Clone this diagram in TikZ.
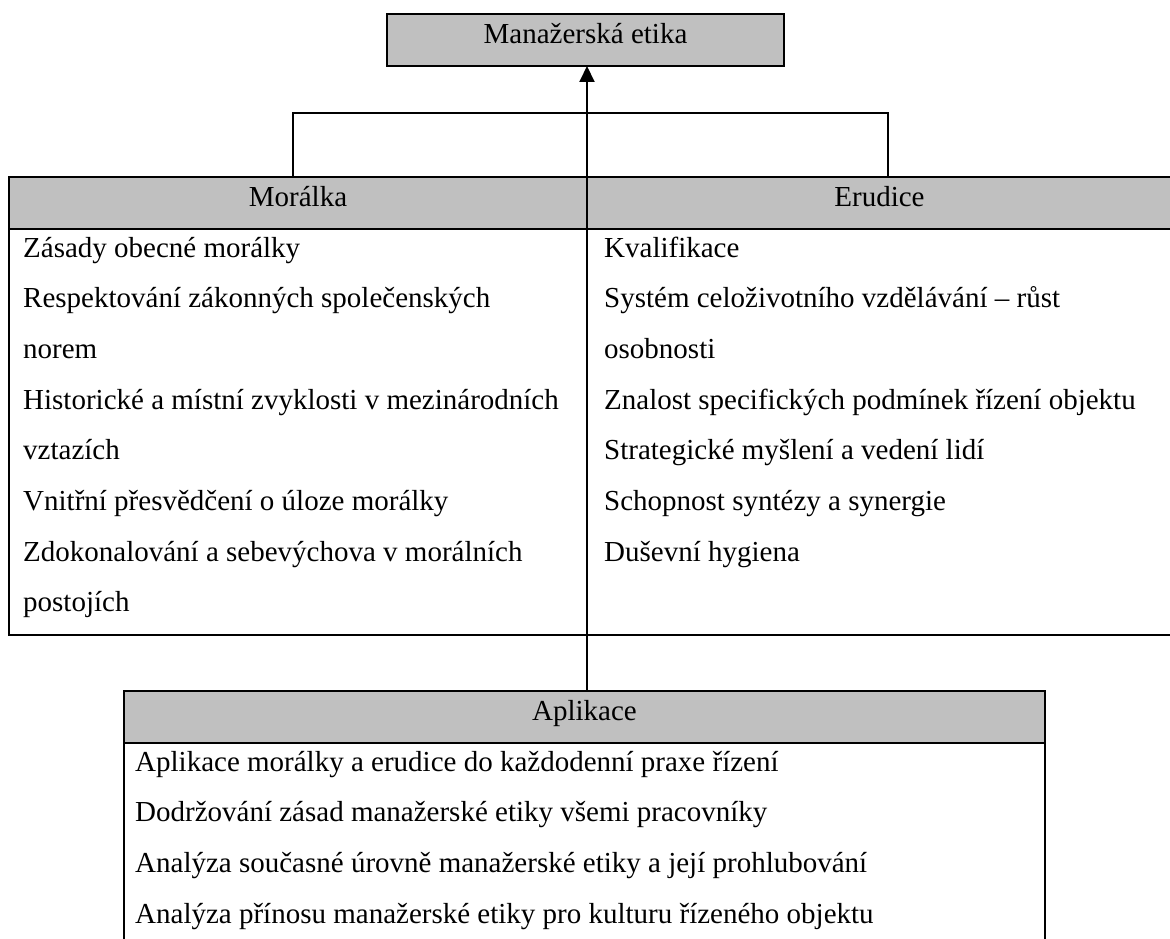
\documentclass[tikz,border=0pt]{standalone}
\usepackage{fontspec}
\setmainfont{Liberation Serif}
\usetikzlibrary{arrows.meta}
\definecolor{headgray}{HTML}{C0C0C0}
\begin{document}
\begin{tikzpicture}[x=1pt,y=-1pt,
  box/.style={draw=black, line width=2pt, inner sep=0pt, outer sep=0pt},
  hdrbox/.style={box, fill=headgray},
  txt/.style={anchor=base west, inner sep=0pt, font=\fontsize{29}{35}\selectfont},
  ctxt/.style={anchor=base, inner sep=0pt, font=\fontsize{29}{35}\selectfont},
  conn/.style={draw=black, line width=1.5pt},
  arr/.style={draw=black, line width=2pt, -{Triangle[length=16pt,width=15pt]}}
]
\useasboundingbox (0,0) rectangle (1170,939);
% top box
\node[hdrbox, minimum width=397pt, minimum height=52pt] (topbox) at (585.5,40) {};
\node[ctxt] (toptext) at (585.5,44) {Manažerská etika};
% table Moralka / Erudice
\node[box, minimum width=578pt, minimum height=406pt] (moralB) at (298,432) {};
\node[box, minimum width=585pt, minimum height=406pt] (eruB) at (879.5,432) {};
\node[hdrbox, minimum width=578pt, minimum height=52pt] (moralH) at (298,203) {};
\node[hdrbox, minimum width=585pt, minimum height=52pt] (eruH) at (879.5,203) {};
\node[ctxt] (moralT) at (298,206) {Morálka};
\node[ctxt] (eruT) at (879.5,206) {Erudice};
\foreach \t [count=\i] in {Zásady obecné morálky,
  Respektování zákonných společenských,
  norem,
  Historické a místní zvyklosti v mezinárodních,
  vztazích,
  Vnitřní přesvědčení o úloze morálky,
  Zdokonalování a sebevýchova v morálních,
  postojích}
  \node[txt] (m\i) at (23,{257+50.7*(\i-1)}) {\t};
\foreach \t [count=\i] in {Kvalifikace,
  Systém celoživotního vzdělávání – růst,
  osobnosti,
  Znalost specifických podmínek řízení objektu,
  Strategické myšlení a vedení lidí,
  Schopnost syntézy a synergie,
  Duševní hygiena}
  \node[txt] (e\i) at (604,{257+50.7*(\i-1)}) {\t};
% Aplikace
\node[box, minimum width=921pt, minimum height=210pt] (aplB) at (584.5,848) {};
\node[hdrbox, minimum width=921pt, minimum height=52pt] (aplH) at (584.5,717) {};
\node[ctxt] (aplT) at (584.5,720) {Aplikace};
\foreach \t [count=\i] in {Aplikace morálky a erudice do každodenní praxe řízení,
  Dodržování zásad manažerské etiky všemi pracovníky,
  Analýza současné úrovně manažerské etiky a její prohlubování,
  Analýza přínosu manažerské etiky pro kulturu řízeného objektu}
  \node[txt] (a\i) at (135,{771+50.7*(\i-1)}) {\t};
% connectors
\coordinate (jl) at (293,113);
\coordinate (jr) at (888,113);
\draw[conn] (moralH.north -| jl) |- (jr) -- (eruH.north -| jr);
\draw[arr] (moralH.north east) -- (moralH.north east |- topbox.south);
\draw[conn] (moralB.south east) -- (moralB.south east |- aplH.north);
\end{tikzpicture}
\end{document}
